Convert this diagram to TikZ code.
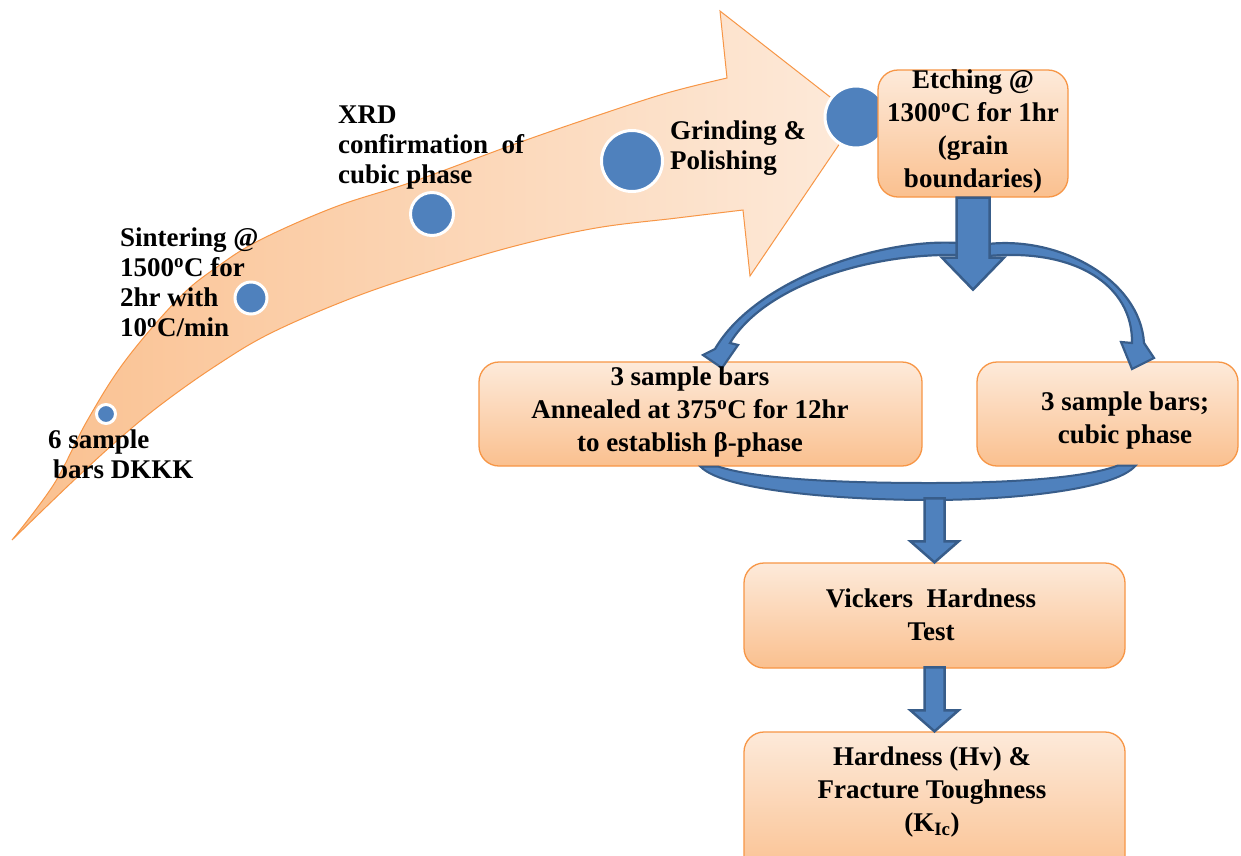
\documentclass[tikz,border=0pt]{standalone}
\usepackage{fontspec}
\setmainfont{Liberation Serif}
\usetikzlibrary{calc}
\definecolor{bfill}{RGB}{79,129,189}
\definecolor{bline}{RGB}{56,93,138}
\definecolor{oline}{RGB}{247,150,70}
\definecolor{olight}{RGB}{253,234,218}
\definecolor{odark}{RGB}{250,192,143}
\begin{document}
\begin{tikzpicture}[x=1pt,y=-1pt,
  txt/.style={font=\fontsize{27}{30}\selectfont\bfseries, inner sep=0pt, align=left, anchor=north west},
  btxt/.style={font=\fontsize{27}{33}\selectfont\bfseries, inner sep=0pt, align=center, anchor=north},
  stepbox/.style={draw=oline, line width=1.3pt, rounded corners=20pt, top color=olight, bottom color=odark, inner sep=0pt},
  dot/.style={circle, fill=bfill, draw=white, line width=3pt, inner sep=0pt},
  blockarrow/.style={fill=bfill, draw=bline, line width=2.5pt, line join=miter}
]
\useasboundingbox (0,0) rectangle (1241,855);
\fill[white] (0,0) rectangle (1241,855);
\clip (0,0) rectangle (1241,855);

% big curved process arrow
\path[draw=oline, line width=1pt, left color=odark, right color=olight]
 (12,540) -- plot[smooth, tension=0.6] coordinates {(12,540) (54,484) (87,421) (125,361) (179,298) (217,267) (260,240) (335,207) (412,182) (515,144) (596,116) (667,93) (727,78)}
 -- (720,11) -- (857,118) -- (750,276) -- (743,210)
 -- plot[smooth, tension=0.6] coordinates {(743,210) (677,218) (596,228) (515,246) (434,270) (352,298) (271,333) (217,365) (163,403) (119,439) (70,484) (12,540)}
 -- cycle;

% dots
\node[dot, minimum size=19pt] (c1) at (106,414) {};
\node[dot, minimum size=32pt] (c2) at (251,298) {};
\node[dot, minimum size=43pt] (c3) at (432,214) {};
\node[dot, minimum size=61pt] (c4) at (632,161) {};
\node[dot, minimum size=62pt] (c5) at (856,117) {};

% step texts along the arrow
\node[txt] (t1) at (48,429.5) {6 sample\\\hspace*{5pt}bars DKKK};
\node[txt] (t2) at (120,227.5) {Sintering @\\1500\textsuperscript{o}C for\\2hr with\\10\textsuperscript{o}C/min};
\node[txt] (t3) at (338,105.5) {XRD\\confirmation\ \ of\\cubic phase};
\node[txt] (t4) at (670,121) {Grinding \&\\Polishing};

% boxes
\node[stepbox, minimum width=190pt, minimum height=127pt] (etch) at (973,133.5) {};
\node[stepbox, minimum width=443pt, minimum height=104pt] (boxA) at (700.5,414) {};
\node[stepbox, minimum width=261pt, minimum height=104pt] (boxB) at (1107.5,414) {};
\node[stepbox, minimum width=381pt, minimum height=105pt] (boxC) at (934.5,615.5) {};
\node[stepbox, minimum width=381pt, minimum height=148pt] (boxD) at (934.5,806) {};

% curved split arrows
\path[blockarrow, line width=2.2pt]
 (958,243) .. controls (880,238) and (755,280) .. (715,349)
 -- (703,355) -- (722,368) -- (738,345) -- (730,343)
 .. controls (765,285) and (870,253) .. (958,255) -- cycle;
\path[blockarrow, line width=2.2pt]
 (988,244) .. controls (1060,236) and (1140,280) .. (1144,343)
 -- (1154,358) -- (1132,369) -- (1121,342) -- (1132,343)
 .. controls (1133,285) and (1075,248) .. (988,256) -- cycle;

% down arrow from etching box
\path[blockarrow] ($(etch.south)+(-16.5,0)$) -- ($(etch.south)+(-16.5,60)$) -- ($(etch.south)+(-31,60)$)
 -- ($(etch.south)+(0,92)$) -- ($(etch.south)+(31,60)$) -- ($(etch.south)+(16.5,60)$) -- ($(etch.south)+(16.5,0)$) -- cycle;

% merging brace
\path[blockarrow, line width=2pt] (boxA.south) -- ($(boxA.south)+(18,0)$)
 .. controls (760,480) and (850,483) .. (930,483)
 .. controls (1010,483) and (1085,478) .. ($(boxB.south)+(10,-1)$) -- ($(boxB.south)+(28,-1)$)
 .. controls (1115,490) and (1010,500) .. (930,500)
 .. controls (850,500) and (725,492) .. (boxA.south) -- cycle;

% down arrows to lower boxes
\path[blockarrow] ($(boxC.north)+(-10,-64)$) -- ($(boxC.north)+(-10,-21)$) -- ($(boxC.north)+(-24,-21)$)
 -- (boxC.north) -- ($(boxC.north)+(24,-21)$) -- ($(boxC.north)+(10,-21)$) -- ($(boxC.north)+(10,-64)$) -- cycle;
\path[blockarrow] ($(boxD.north)+(-10,-64)$) -- ($(boxD.north)+(-10,-21)$) -- ($(boxD.north)+(-24,-21)$)
 -- (boxD.north) -- ($(boxD.north)+(24,-21)$) -- ($(boxD.north)+(10,-21)$) -- ($(boxD.north)+(10,-64)$) -- cycle;

% box texts
\node[btxt] (etcht) at (973,69.5) {Etching @\\1300\textsuperscript{o}C for 1hr\\(grain\\boundaries)};
\node[btxt] (boxAt) at (690,366.6) {3 sample bars\\Annealed at 375\textsuperscript{o}C for 12hr\\to establish β-phase};
\node[btxt] (boxBt) at (1125,391.6) {3 sample bars;\\cubic phase};
\node[btxt] (boxCt) at (931,588.3) {Vickers\ \ Hardness\\Test};
\node[btxt] (boxDt) at (932,746.3) {Hardness (Hv) \&\\Fracture Toughness\\(K\textsubscript{Ic})};
\end{tikzpicture}
\end{document}
